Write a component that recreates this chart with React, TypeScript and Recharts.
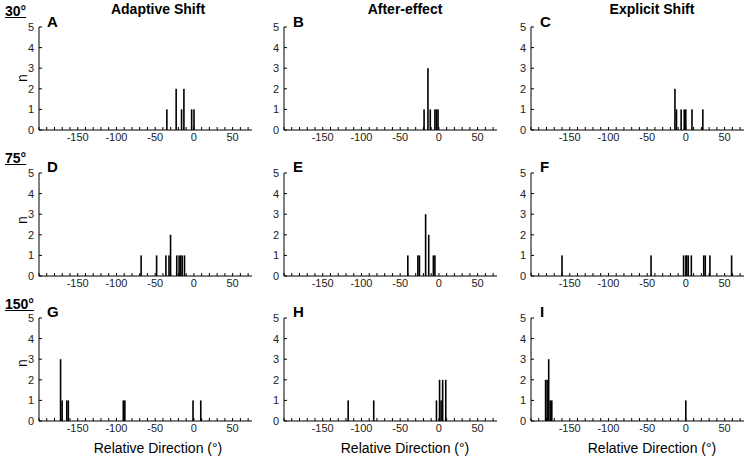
import React from 'react';
import { BarChart, Bar, XAxis, YAxis } from 'recharts';

const xTicks = [-200, -190, -180, -170, -160, -150, -140, -130, -120, -110, -100, -90, -80, -70, -60, -50, -40, -30, -20, -10, 0, 10, 20, 30, 40, 50, 60, 70];
const yTicks = [0, 1, 2, 3, 4, 5];

const columnTitles = ['Adaptive Shift', 'After-effect', 'Explicit Shift'];
const rowTitles = ['30°', '75°', '150°'];
const panelLetters = ['A', 'B', 'C', 'D', 'E', 'F', 'G', 'H', 'I'];

// 30° row
const dirA = [-35, -23, -16, -13, -3, 0];
const cntA = [1, 2, 1, 2, 1, 1];
const dirB = [-19, -14, -11, -5, -3, -1];
const cntB = [1, 3, 1, 1, 1, 1];
const dirC = [-14, -12, -6, -2, 0, 8, 22];
const cntC = [2, 1, 1, 1, 1, 1, 1];
// 75° row
const dirD = [-68, -48, -36, -32, -30, -22, -19, -17, -15, -12];
const cntD = [1, 1, 1, 1, 2, 1, 1, 1, 1, 1];
const dirE = [-40, -27, -25, -17, -13, -7, -5];
const cntE = [1, 1, 1, 3, 2, 1, 1];
const dirF = [-160, -45, -3, 0, 1, 3, 7, 23, 25, 31, 59];
const cntF = [1, 1, 1, 1, 1, 1, 1, 1, 1, 1, 1];
// 150° row
const dirG = [-172, -170, -164, -162, -91, -89, -1, 9];
const cntG = [3, 1, 1, 1, 1, 1, 1, 1];
const dirH = [-117, -84, -3, 1, 3, 5, 9];
const cntH = [1, 1, 1, 2, 1, 2, 2];
const dirI = [-181, -179, -177, -175, -173, 0];
const cntI = [2, 2, 3, 1, 1, 1];

const panels = [
  [dirA, cntA], [dirB, cntB], [dirC, cntC],
  [dirD, cntD], [dirE, cntE], [dirF, cntF],
  [dirG, cntG], [dirH, cntH], [dirI, cntI],
];

const FONT = '"Liberation Sans", Arial, sans-serif';
const colLeft = [39, 284, 531];
const rowTop = [27, 173, 318];
const plotW = 213;
const plotH = 103;
const yAxisW = 30;
const mTop = 8;
const xAxisH = 20;
const BAR_W = 1.6;

function ThinBar(props: any) {
  const { x, y, width, height } = props;
  if (height == null || !isFinite(height) || height <= 0) return null;
  const cx = x + width / 2;
  return <rect x={cx - BAR_W / 2} y={y} width={BAR_W} height={height} fill="#000" />;
}

function Panel({ dirs, counts, left, top }: { dirs: number[]; counts: number[]; left: number; top: number }) {
  const data = dirs.map((d, i) => ({ dir: d, n: counts[i] }));
  return (
    <div style={{ position: 'absolute', left: left - yAxisW, top: top - mTop }}>
      <BarChart
        width={yAxisW + plotW + 4}
        height={mTop + plotH + xAxisH}
        data={data}
        margin={{ top: mTop, right: 4, left: 0, bottom: 0 }}
      >
        <XAxis
          dataKey="dir"
          type="number"
          domain={[-200, 75]}
          allowDataOverflow
          ticks={xTicks}
          interval={0}
          tickFormatter={(v: number) => (v % 50 === 0 && v > -200 ? String(v) : '')}
          tickSize={-3}
          tickMargin={6}
          height={xAxisH}
          stroke="#000"
          tick={{ fill: '#222', fontSize: 11, fontFamily: FONT }}
        />
        <YAxis
          type="number"
          domain={[0, 5]}
          ticks={yTicks}
          interval={0}
          tickSize={-3}
          tickMargin={8}
          width={yAxisW}
          stroke="#000"
          tick={{ fill: '#222', fontSize: 11, fontFamily: FONT }}
        />
        <Bar dataKey="n" fill="#000" shape={ThinBar} isAnimationActive={false} />
      </BarChart>
    </div>
  );
}

const colTitleX = [158, 405, 652];
const letterX = [47, 293, 540];
const letterY = [22, 167, 312];
const rowLabelY = [11, 158, 304];
const nLabelY = [78, 220, 363];

export default function App() {
  return (
    <div style={{ position: 'absolute', left: 0, top: 0, width: 748, height: 460, background: '#fff', fontFamily: FONT, color: '#000' }}>
      {columnTitles.map((t, i) => (
        <div key={t} style={{ position: 'absolute', left: colTitleX[i] - 100, width: 200, top: 1, textAlign: 'center', fontWeight: 'bold', fontSize: 14, lineHeight: '16px' }}>{t}</div>
      ))}
      {rowTitles.map((t, i) => (
        <div key={t} style={{ position: 'absolute', left: 5, top: rowLabelY[i] - 7, fontWeight: 'bold', fontSize: 14, lineHeight: '14px', textDecoration: 'underline' }}>{t}</div>
      ))}
      {panels.map((p, k) => {
        const r = Math.floor(k / 3);
        const c = k % 3;
        return (
          <React.Fragment key={k}>
            <Panel dirs={p[0]} counts={p[1]} left={colLeft[c]} top={rowTop[r]} />
            <div style={{ position: 'absolute', left: letterX[c], top: letterY[r] - 8, fontWeight: 'bold', fontSize: 15, lineHeight: '16px' }}>{panelLetters[k]}</div>
          </React.Fragment>
        );
      })}
      {nLabelY.map((y, i) => (
        <div key={i} style={{ position: 'absolute', left: 22 - 10, top: y - 8, width: 20, height: 16, lineHeight: '16px', textAlign: 'center', fontSize: 14, transform: 'rotate(-90deg)' }}>n</div>
      ))}
      {colTitleX.map((x, i) => (
        <div key={i} style={{ position: 'absolute', left: x - 100, width: 200, top: 440, textAlign: 'center', fontSize: 14, lineHeight: '16px' }}>Relative Direction (°)</div>
      ))}
    </div>
  );
}
